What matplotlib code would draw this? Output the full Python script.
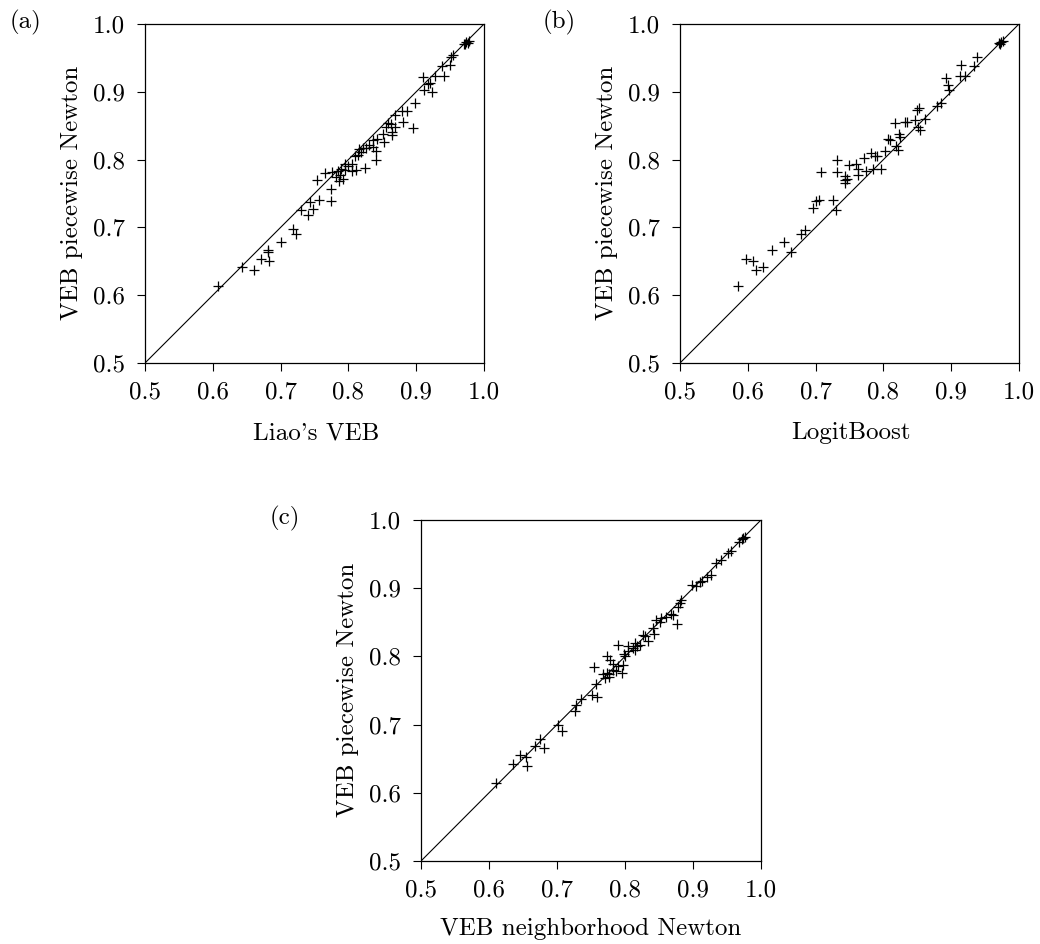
import matplotlib
matplotlib.use("Agg")
import matplotlib.pyplot as plt

plt.rcParams['font.family'] = 'serif'
plt.rcParams['font.serif'] = ['cmr10', 'DejaVu Serif']
plt.rcParams['mathtext.fontset'] = 'cm'
plt.rcParams['axes.formatter.use_mathtext'] = True

# Panel (a): Liao's VEB vs VEB piecewise Newton
a_x = [0.608, 0.643, 0.661, 0.671, 0.681, 0.682, 0.683, 0.701, 0.718, 0.723,
       0.730, 0.741, 0.744, 0.748, 0.757, 0.775, 0.774, 0.754, 0.766, 0.776,
       0.784, 0.782, 0.786, 0.792, 0.787, 0.795, 0.806, 0.805, 0.811, 0.824,
       0.809, 0.814, 0.816, 0.821, 0.826, 0.831, 0.836, 0.840, 0.840, 0.836,
       0.842, 0.853, 0.851, 0.855, 0.859, 0.863, 0.865, 0.868, 0.864, 0.869,
       0.879, 0.880, 0.887, 0.896, 0.898, 0.910, 0.912, 0.918, 0.921, 0.924,
       0.927, 0.941, 0.938, 0.950, 0.952, 0.955, 0.970, 0.974, 0.978, 0.976,
       0.972, 0.795, 0.800, 0.789, 0.818]
a_y = [0.613, 0.641, 0.637, 0.654, 0.666, 0.663, 0.651, 0.678, 0.698, 0.690,
       0.726, 0.718, 0.738, 0.727, 0.740, 0.739, 0.756, 0.770, 0.780, 0.781,
       0.783, 0.774, 0.769, 0.771, 0.778, 0.793, 0.793, 0.783, 0.785, 0.788,
       0.805, 0.807, 0.815, 0.817, 0.817, 0.822, 0.819, 0.812, 0.799, 0.829,
       0.831, 0.826, 0.838, 0.848, 0.854, 0.853, 0.841, 0.848, 0.837, 0.866,
       0.872, 0.855, 0.871, 0.846, 0.883, 0.922, 0.903, 0.911, 0.913, 0.900,
       0.923, 0.923, 0.938, 0.940, 0.952, 0.955, 0.970, 0.974, 0.975, 0.972,
       0.971, 0.785, 0.790, 0.786, 0.811]

# Panel (b): LogitBoost vs VEB piecewise Newton
b_x = [0.585, 0.597, 0.608, 0.612, 0.623, 0.636, 0.653, 0.664, 0.679, 0.684,
       0.696, 0.700, 0.705, 0.726, 0.730, 0.708, 0.732, 0.732, 0.744, 0.744,
       0.743, 0.749, 0.760, 0.762, 0.763, 0.771, 0.774, 0.781, 0.787, 0.784,
       0.797, 0.803, 0.807, 0.817, 0.818, 0.822, 0.823, 0.832, 0.846, 0.850,
       0.852, 0.854, 0.861, 0.879, 0.885, 0.893, 0.895, 0.897, 0.915, 0.913,
       0.920, 0.934, 0.938, 0.972, 0.974, 0.970, 0.976, 0.810, 0.825, 0.835,
       0.851, 0.746, 0.791]
b_y = [0.613, 0.654, 0.651, 0.637, 0.641, 0.667, 0.678, 0.664, 0.690, 0.696,
       0.728, 0.739, 0.740, 0.740, 0.726, 0.782, 0.799, 0.782, 0.776, 0.770,
       0.766, 0.792, 0.793, 0.786, 0.777, 0.803, 0.783, 0.810, 0.805, 0.786,
       0.786, 0.812, 0.830, 0.854, 0.820, 0.814, 0.838, 0.856, 0.859, 0.873,
       0.876, 0.843, 0.860, 0.879, 0.884, 0.920, 0.910, 0.903, 0.939, 0.923,
       0.923, 0.938, 0.951, 0.971, 0.974, 0.972, 0.975, 0.829, 0.833, 0.855,
       0.848, 0.772, 0.806]

# Panel (c): VEB neighborhood Newton vs VEB piecewise Newton
c_x = [0.610, 0.636, 0.646, 0.654, 0.656, 0.667, 0.675, 0.681, 0.701, 0.707,
       0.726, 0.728, 0.736, 0.751, 0.759, 0.758, 0.754, 0.767, 0.770, 0.773,
       0.776, 0.773, 0.777, 0.782, 0.787, 0.789, 0.796, 0.797, 0.789, 0.798,
       0.800, 0.805, 0.805, 0.812, 0.815, 0.817, 0.822, 0.827, 0.829, 0.834,
       0.841, 0.843, 0.846, 0.851, 0.853, 0.860, 0.868, 0.870, 0.877, 0.878,
       0.881, 0.883, 0.898, 0.905, 0.911, 0.913, 0.921, 0.927, 0.934, 0.941,
       0.951, 0.956, 0.968, 0.972, 0.974, 0.976, 0.778, 0.783, 0.815]
c_y = [0.615, 0.642, 0.655, 0.652, 0.639, 0.669, 0.679, 0.665, 0.699, 0.691,
       0.720, 0.729, 0.738, 0.743, 0.740, 0.759, 0.784, 0.774, 0.769, 0.801,
       0.774, 0.775, 0.770, 0.789, 0.778, 0.786, 0.776, 0.788, 0.816, 0.803,
       0.801, 0.808, 0.815, 0.813, 0.820, 0.815, 0.816, 0.832, 0.830, 0.822,
       0.842, 0.833, 0.853, 0.851, 0.857, 0.858, 0.862, 0.860, 0.847, 0.873,
       0.879, 0.883, 0.904, 0.903, 0.909, 0.911, 0.917, 0.920, 0.937, 0.941,
       0.952, 0.955, 0.968, 0.972, 0.974, 0.975, 0.795, 0.780, 0.810]

ticks = [0.5, 0.6, 0.7, 0.8, 0.9, 1.0]
tick_labels = ['0.5', '0.6', '0.7', '0.8', '0.9', '1.0']
ylabel = 'VEB piecewise Newton'

W, H = 1040, 944
fig = plt.figure(figsize=(W / 100, H / 100), dpi=100)

# tag, xlabel, data, axes box (left, top, w, h) px, tag pos, xlabel pos, ylabel pos
panels = [
    ('(a)', "Liao's VEB", a_x, a_y, (145, 24, 339, 339), (10, 22), (316, 433), (72, 193)),
    ('(b)', 'LogitBoost', b_x, b_y, (680, 24, 339, 339), (543, 22), (851, 433), (607, 193)),
    ('(c)', 'VEB neighborhood Newton', c_x, c_y, (421, 520, 340, 341), (270, 518), (591, 929), (348, 690)),
]

FS = 18
for tag, xlabel, xs, ys, (l, t, w, h), (tx, ty), (lx, ly), (yx, yy) in panels:
    ax = fig.add_axes([l / W, 1 - (t + h) / H, w / W, h / H])
    ax.plot([0.5, 1.0], [0.5, 1.0], color='black', lw=0.8)
    ax.plot(xs, ys, linestyle='none', marker='+', color='black',
            markersize=7.5, markeredgewidth=0.9)
    ax.set_xlim(0.5, 1.0)
    ax.set_ylim(0.5, 1.0)
    ax.set_xticks(ticks)
    ax.set_xticklabels(tick_labels)
    ax.set_yticks(ticks)
    ax.set_yticklabels(tick_labels)
    ax.tick_params(direction='out', length=5.5, width=0.8, labelsize=FS,
                   top=False, right=False)
    ax.tick_params(axis='x', pad=8)
    ax.tick_params(axis='y', pad=9)
    for s in ax.spines.values():
        s.set_linewidth(0.9)
    fig.text(lx / W, 1 - ly / H, xlabel, fontsize=FS, ha='center', va='center')
    fig.text(yx / W, 1 - yy / H, ylabel, fontsize=FS, ha='center', va='center',
             rotation=90)
    fig.text(tx / W, 1 - ty / H, tag, fontsize=FS, ha='left', va='center')

fig.savefig('out.png', dpi=100)
